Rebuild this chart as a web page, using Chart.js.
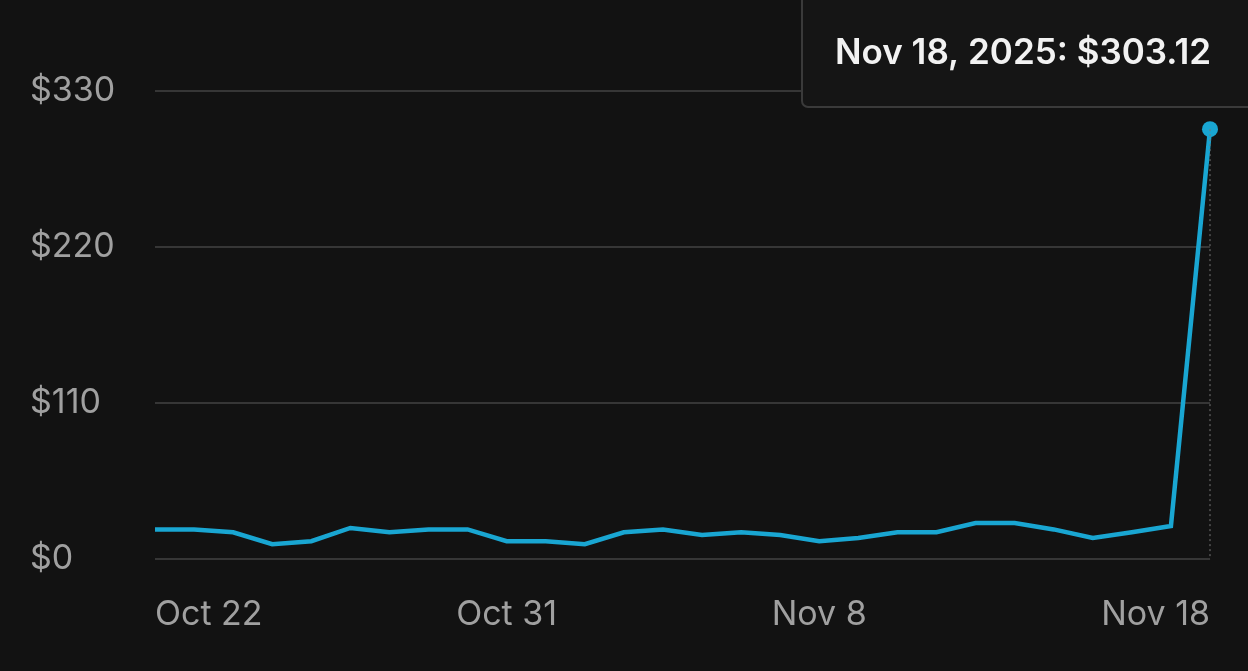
<!DOCTYPE html>
<html>
<head>
<meta charset="utf-8">
<script src="https://cdn.jsdelivr.net/npm/chart.js@4"></script>
<style>
  html, body { margin: 0; padding: 0; background: #121212; }
  #wrap { width: 1248px; height: 671px; }
</style>
</head>
<body>
<div id="wrap"><canvas id="chart" width="1248" height="671"></canvas></div>
<script>
const dates = [
  'Oct 22','Oct 23','Oct 24','Oct 25','Oct 26','Oct 27','Oct 28','Oct 29','Oct 30','Oct 31',
  'Nov 1','Nov 2','Nov 3','Nov 4','Nov 5','Nov 6','Nov 7','Nov 8','Nov 9','Nov 10',
  'Nov 11','Nov 12','Nov 13','Nov 14','Nov 15','Nov 16','Nov 17','Nov 18'
];
const spend = [
  21, 21, 19, 10.6, 12.7, 22, 19, 21, 21, 12.7,
  12.7, 10.6, 19, 21, 17, 19, 17, 12.7, 14.9, 19,
  19, 25.5, 25.5, 21, 14.9, 19, 23.4, 303.12
];
const shownTicks = ['Oct 22', 'Oct 31', 'Nov 8', 'Nov 18'];
const yTicks = [0, 110, 220, 330];
const tooltipText = 'Nov 18, 2025: $303.12';

// highlighted last point: dotted drop line + tooltip box
const highlight = {
  id: 'highlight',
  afterDatasetsDraw(chart) {
    const { ctx, chartArea } = chart;
    const pt = chart.getDatasetMeta(0).data[spend.length - 1];
    ctx.save();
    ctx.strokeStyle = '#777';
    ctx.lineWidth = 1;
    ctx.setLineDash([2, 3]);
    ctx.beginPath();
    ctx.moveTo(pt.x, pt.y);
    ctx.lineTo(pt.x, chartArea.bottom);
    ctx.stroke();
    ctx.setLineDash([]);

    const left = pt.x - 408, top = -6, w = 470, h = 113;
    ctx.fillStyle = '#151515';
    ctx.strokeStyle = '#3a3a3a';
    ctx.lineWidth = 2;
    ctx.beginPath();
    ctx.roundRect(left, top, w, h, 6);
    ctx.fill();
    ctx.stroke();
    ctx.fillStyle = '#f2f2f2';
    ctx.font = '600 35px Inter, "Open Sans", sans-serif';
    ctx.textBaseline = 'middle';
    ctx.fillText(tooltipText, left + 33, 53);
    ctx.restore();
  }
};

new Chart(document.getElementById('chart'), {
  type: 'line',
  data: {
    labels: dates,
    datasets: [{
      data: spend,
      borderColor: '#19a6d2',
      backgroundColor: '#19a6d2',
      borderWidth: 4.5,
      tension: 0,
      pointRadius: spend.map((_, i) => i === spend.length - 1 ? 8 : 0),
      pointBorderWidth: 0
    }]
  },
  options: {
    responsive: false,
    animation: false,
    layout: { padding: { top: 91, right: 38, left: 30, bottom: 9 } },
    plugins: { legend: { display: false }, tooltip: { enabled: false } },
    scales: {
      x: {
        grid: { display: false },
        border: { display: false },
        ticks: {
          autoSkip: false,
          maxRotation: 0,
          align: 'inner',
          color: '#a0a0a0',
          font: { size: 34, family: 'Inter, "Open Sans", sans-serif' },
          padding: 27,
          callback(v) { const l = dates[v]; return shownTicks.includes(l) ? l : null; }
        }
      },
      y: {
        min: 0, max: 330,
        afterBuildTicks(axis) { axis.ticks = yTicks.map(v => ({ value: v })); },
        afterFit(axis) { axis.width = 125; },
        grid: { color: '#363636', lineWidth: 2, drawTicks: false },
        border: { display: false },
        ticks: {
          crossAlign: 'far',
          color: '#a0a0a0',
          font: { size: 34, family: 'Inter, "Open Sans", sans-serif' },
          padding: 16,
          callback: v => '$' + v
        }
      }
    }
  },
  plugins: [highlight]
});
</script>
</body>
</html>
